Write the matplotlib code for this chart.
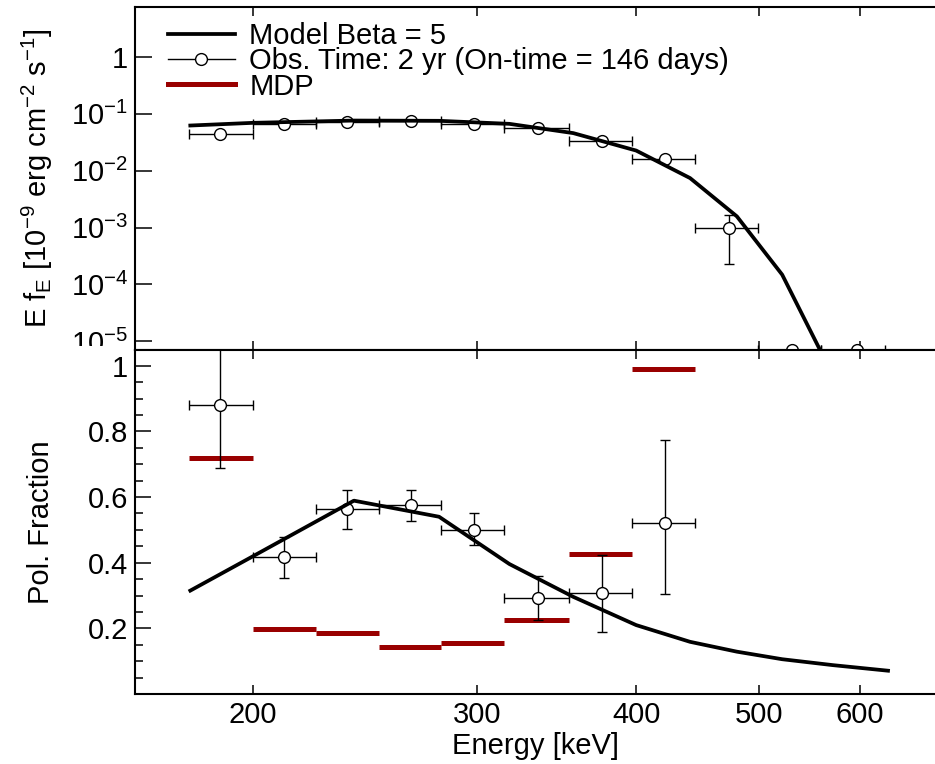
import matplotlib
matplotlib.use('Agg')
import matplotlib.pyplot as plt
from matplotlib.lines import Line2D
from matplotlib.ticker import FixedLocator, FixedFormatter, NullLocator, LogLocator, MultipleLocator, NullFormatter
from matplotlib.transforms import Bbox, TransformedBbox

plt.rcParams['font.family'] = ['Liberation Sans', 'DejaVu Sans']
plt.rcParams['mathtext.fontset'] = 'custom'
plt.rcParams['mathtext.rm'] = 'Liberation Sans'
plt.rcParams['mathtext.it'] = 'Liberation Sans:italic'
plt.rcParams['mathtext.bf'] = 'Liberation Sans:bold'
plt.rcParams['mathtext.default'] = 'regular'

# ---------------- data ----------------
# energy bins [keV]
bin_edges = [178, 200, 224, 251, 281, 315, 354, 397, 445, 499, 559, 627]
bin_centers = [188.4, 211.3, 237.0, 266.2, 298.5, 335.2, 376.0, 421.6, 473.6, 530.5, 596.8]

# simulated spectrum (E f_E) and its error bar ends
flux = [0.0445, 0.0667, 0.0723, 0.0744, 0.0667, 0.0574, 0.0339, 0.0162, 0.000965, 7e-6, 7e-6]
flux_lo = [0.0445, 0.0667, 0.0723, 0.0744, 0.0667, 0.0574, 0.0339, 0.0162, 0.000228, 7e-6, 7e-6]
flux_hi = [0.0445, 0.0667, 0.0723, 0.0744, 0.0667, 0.0574, 0.0339, 0.0162, 0.00168, 7e-6, 7e-6]

# model (Beta = 5)
model_energy = [178.5, 200, 240, 280, 318, 357, 400, 441, 480, 521, 571, 631]
model_flux = [0.0623, 0.0695, 0.0762, 0.0754, 0.0667, 0.0458, 0.0226, 0.00741, 0.00157, 0.000148, 2.5e-6, 1e-8]
model_pol = [0.315, 0.420, 0.589, 0.540, 0.396, 0.296, 0.210, 0.159, 0.129, 0.106, 0.088, 0.071]

# polarization fraction (first 8 bins)
pol = [0.880, 0.416, 0.563, 0.576, 0.500, 0.292, 0.307, 0.522]
pol_lo = [0.689, 0.352, 0.503, 0.528, 0.454, 0.225, 0.188, 0.305]
pol_hi = [1.10, 0.479, 0.621, 0.621, 0.550, 0.360, 0.423, 0.774]
mdp = [0.718, 0.199, 0.185, 0.144, 0.156, 0.225, 0.427, 0.989]

x_ticks = [200, 300, 400, 500, 600]
mdp_color = '#990000'

# ---------------- figure ----------------
fig = plt.figure(figsize=(9.35, 7.64), dpi=100)
ax1 = fig.add_axes([0.1444, 0.5419, 0.8556, 0.4490])
ax2 = fig.add_axes([0.1444, 0.0916, 0.8556, 0.4503])

xlo = [c - e for c, e in zip(bin_centers, bin_edges[:-1])]
xhi = [e - c for c, e in zip(bin_centers, bin_edges[1:])]

# top panel: spectrum
ax1.errorbar(bin_centers, flux, xerr=[xlo, xhi],
             yerr=[[f - l for f, l in zip(flux, flux_lo)], [h - f for f, h in zip(flux, flux_hi)]],
             fmt='o', ms=8.5, mfc='white', mec='black', mew=1.0, color='black',
             elinewidth=1.0, capsize=3.5, capthick=1.0, zorder=3)
ax1.plot(model_energy, model_flux, color='black', lw=2.7, zorder=4, solid_joinstyle='round')

# bottom panel: polarization
n = len(pol)
ax2.errorbar(bin_centers[:n], pol, xerr=[xlo[:n], xhi[:n]],
             yerr=[[p - l for p, l in zip(pol, pol_lo)], [h - p for p, h in zip(pol, pol_hi)]],
             fmt='o', ms=8.5, mfc='white', mec='black', mew=1.0, color='black',
             elinewidth=1.0, capsize=3.5, capthick=1.0, zorder=3)
ax2.hlines(mdp, bin_edges[:n], bin_edges[1:n + 1], colors=mdp_color, lw=3.6, zorder=2)
ax2.plot(model_energy, model_pol, color='black', lw=2.7, zorder=4, solid_joinstyle='round')

# axes setup
for ax in (ax1, ax2):
    ax.set_xscale('log')
    ax.set_xlim(161.5, 687)
    ax.xaxis.set_major_locator(FixedLocator(x_ticks))
    ax.xaxis.set_minor_locator(NullLocator())
    ax.xaxis.set_major_formatter(FixedFormatter([str(t) for t in x_ticks]))
    ax.tick_params(axis='x', which='major', direction='in', length=6.5, width=1.1,
                   top=True, bottom=True, labelsize=21, pad=5)
    ax.tick_params(axis='y', which='both', direction='in', width=1.1, right=False,
                   labelsize=21, pad=5)
    ax.spines['right'].set_visible(False)
    for s in ('left', 'top', 'bottom'):
        ax.spines[s].set_linewidth(1.5)

ax1.tick_params(axis='x', labelbottom=False)

ax1.set_yscale('log')
ax1.set_ylim(7e-6, 7.6)
y1_ticks = [1, 1e-1, 1e-2, 1e-3, 1e-4, 1e-5]
ax1.yaxis.set_major_locator(FixedLocator(y1_ticks))
ax1.yaxis.set_major_formatter(FixedFormatter(['1'] + [r'$\mathdefault{10^{-%d}}$' % k for k in range(1, 6)]))
ax1.yaxis.set_minor_locator(LogLocator(base=10, subs=range(2, 10)))
ax1.yaxis.set_minor_formatter(NullFormatter())
ax1.tick_params(axis='y', which='major', length=12.5)
ax1.tick_params(axis='y', which='minor', length=7)
ax1.set_ylabel(r'E f$_E$ [10$^{-9}$ erg cm$^{-2}$ s$^{-1}$]', fontsize=21)
ax1.yaxis.set_label_coords(-0.1, 0.5)

ax2.set_ylim(0, 1.048)
ax2.yaxis.set_major_locator(FixedLocator([0.2, 0.4, 0.6, 0.8, 1.0]))
ax2.yaxis.set_major_formatter(FixedFormatter(['0.2', '0.4', '0.6', '0.8', '1']))
ax2.yaxis.set_minor_locator(MultipleLocator(0.05))
ax2.tick_params(axis='y', which='major', length=11.5)
ax2.tick_params(axis='y', which='minor', length=6)
ax2.set_ylabel('Pol. Fraction', fontsize=21)
ax2.yaxis.set_label_coords(-0.1, 0.5)
ax2.set_xlabel('Energy [keV]', fontsize=21, labelpad=2)

# legend
handles = [Line2D([], [], color='black', lw=2.7),
           Line2D([], [], color='black', lw=1.0, marker='o', ms=8.5, mfc='white', mew=1.0),
           Line2D([], [], color=mdp_color, lw=3.6)]
labels = ['Model Beta = 5', 'Obs. Time: 2 yr (On-time = 146 days)', 'MDP']
ax1.legend(handles, labels, loc='upper left', bbox_to_anchor=(0.041, 0.955), frameon=False,
           fontsize=21, handlelength=2.3, handletextpad=0.5, labelspacing=-0.1,
           borderpad=0, borderaxespad=0)

# tick labels of the top panel are cut at the panel border
fig.canvas.draw()
clip_top = TransformedBbox(Bbox([[0, 0.547], [1, 1]]), fig.transFigure)
for lab in ax1.get_yticklabels():
    lab.set_clip_box(clip_top)
    lab.set_clip_on(True)

fig.savefig('out.png', dpi=100)
